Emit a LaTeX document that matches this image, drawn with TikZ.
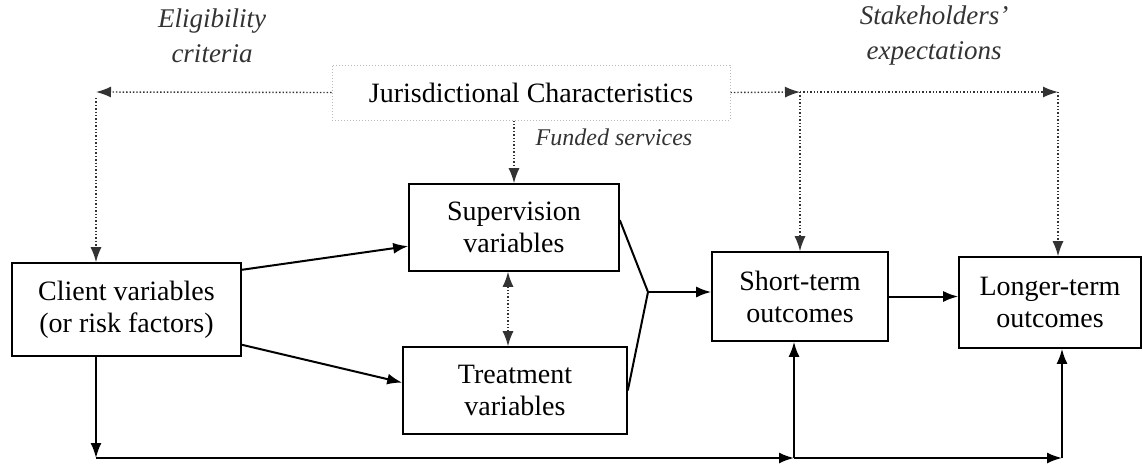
\documentclass[tikz,border=0pt]{standalone}
\usepackage{fontspec}
\setmainfont{Liberation Serif}
\usetikzlibrary{arrows.meta}
\begin{document}
\begin{tikzpicture}[x=1pt, y=-1pt, >={Latex[length=15pt,width=11pt]}, var style/.style={draw, rectangle, line width=1.6pt, align=center, inner sep=0pt, font=\fontsize{28}{32}\selectfont}, juris style/.style={draw=gray!55, dotted, line width=1pt, rectangle, align=center, inner sep=0pt, font=\fontsize{28}{32}\selectfont}, note style/.style={align=center, text=black!80, font=\fontsize{27}{35}\selectfont\itshape}, link/.style={line width=2pt}, dot link/.style={dotted, line width=1.4pt, black!80}]
	\useasboundingbox (0,0) rectangle (1143,469);
	\node[juris style, minimum width=398pt, minimum height=55pt] (J) at (531,92.5) {Jurisdictional Characteristics};
	\node[var style, minimum width=229pt, minimum height=93pt] (C) at (126.5,309.5) {Client variables\\(or risk factors)};
	\node[var style, minimum width=210pt, minimum height=87pt] (S) at (514,227.5) {Supervision\\variables};
	\node[var style, minimum width=224pt, minimum height=87pt] (T) at (515,390.5) {Treatment\\variables};
	\node[var style, minimum width=176pt, minimum height=89pt] (ST) at (800,296.5) {Short-term\\outcomes};
	\node[var style, minimum width=182pt, minimum height=91pt] (LT) at (1050,302.5) {Longer-term\\outcomes};
	\node[note style] (E) at (212,36) {Eligibility\\criteria};
	\node[note style] (K) at (934,36) {Stakeholders'\\expectations};
	\node[note style, font=\fontsize{24}{28}\selectfont\itshape] (F) at (614,137) {Funded services};
	\coordinate (e1) at (96,92);
	\coordinate (k1) at (800,92);
	\coordinate (k2) at (1058,92);
	\coordinate (m) at (648,292);
	\coordinate (b0) at (96,458);
	\coordinate (b1) at (794,458);
	\coordinate (b2) at (1062,458);
	\draw[dot link, ->] (J.west) -- (e1);
	\draw[dot link, ->] ([yshift=-6pt]e1) -- (e1 |- C.north);
	\draw[dot link, ->] (S.north |- J.south) -- (S.north);
	\draw[dot link, <->] ([xshift=-6pt]S.south) -- ([xshift=-6pt]S.south |- T.north);
	\draw[dot link, ->] (J.east) -- (k1);
	\draw[dot link, ->] (k1) -- (k2);
	\draw[dot link, ->] (k1) -- (k1 |- ST.north);
	\draw[dot link, ->] (k2) -- (k2 |- LT.north);
	\draw[link, ->] (C.19.5) -- (S.190);
	\draw[link, ->] (C.-17.7) -- (T.176);
	\draw[link] (S.4) -- (m) -- (T.east);
	\draw[link, ->] (m) -- (m -| ST.west);
	\draw[link, ->] (ST.east) -- (ST.east -| LT.west);
	\draw[link, ->] (b0 |- C.south) -- (b0);
	\draw[link, ->] (b0) -- (b1);
	\draw[link, ->] (b1) -- (b2);
	\draw[link, ->] (b1) -- (b1 |- ST.south);
	\draw[link, ->] (b2) -- (b2 |- LT.south);
\end{tikzpicture}
\end{document}
